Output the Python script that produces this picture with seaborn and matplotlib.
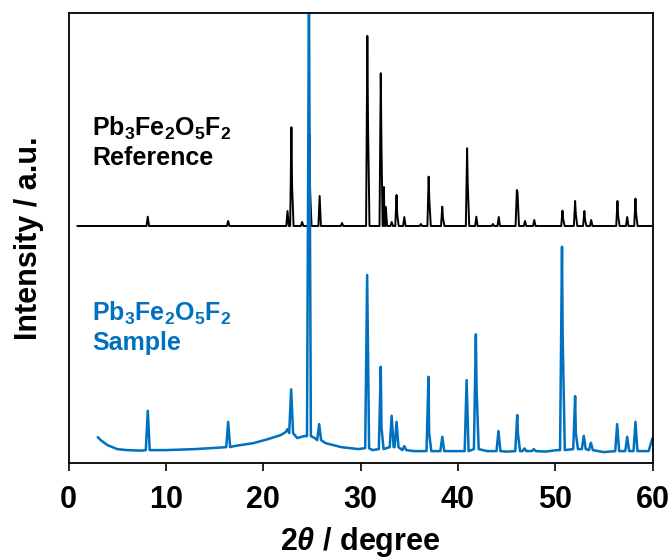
import numpy as np
import pandas as pd
import matplotlib
matplotlib.use("Agg")
import matplotlib.pyplot as plt
import seaborn as sns

# Reference pattern (black): peak positions (2theta), peak heights above its baseline, Ka2 shoulders
ref_start = 0.9
ref_end = 60.0
ref_base = 237.0
ref_pos = [8.14, 16.4, 22.5, 22.9, 24.0, 24.75, 25.8, 28.1, 30.7, 32.08, 32.4, 32.6,
           33.2, 33.7, 34.5, 36.2, 37.0, 38.4, 40.95, 41.9, 43.6, 44.2, 46.06, 46.9,
           47.85, 50.75, 52.05, 53.0, 53.7, 56.4, 57.4, 58.25]
ref_height = [9.3, 5, 15, 98.7, 4, 91.7, 30, 3, 190, 152.7, 39, 19,
              4, 31, 9, 2, 49.3, 19.3, 77.7, 9.3, 2, 9, 36, 5,
              6, 15.3, 25, 15, 6, 25, 9, 27.3]
ref_shoulder = [0, 0, 0, 40, 0, 35, 0, 0, 102, 81, 0, 0,
                0, 12, 0, 0, 26, 8, 41, 0, 0, 0, 34, 0,
                0, 7, 12, 6, 0, 10, 0, 12]

# Sample pattern (blue): background points and peaks (top and foot level)
bg_x = [3.0, 3.3, 4.0, 5.0, 6.0, 7.5, 10.0, 13.0, 15.5, 17.0, 19.0, 20.5, 21.8,
        22.3, 22.5, 23.5, 24.2, 25.3, 26.4, 28.0, 29.8, 31.2, 35.5, 40.0, 43.0,
        45.0, 49.0, 50.2, 55.0, 59.6, 60.0]
bg_y = [26, 23, 18, 14, 13, 12.5, 13, 14, 15.5, 17, 20, 24, 28,
        31, 34, 25, 27, 25, 20, 16, 14, 13, 12, 12, 12,
        11.5, 11.5, 13, 11, 12, 25]
smp_pos = [8.14, 16.4, 22.87, 24.7, 25.75, 30.68, 32.08, 33.2, 33.7, 34.5, 36.98,
           38.4, 40.9, 41.85, 44.17, 46.1, 46.84, 47.8, 50.7, 52.05, 52.94, 53.67,
           56.37, 57.4, 58.25]
smp_top = [52.3, 41.3, 73.7, 470, 39, 188, 96.3, 47.3, 41.3, 17, 86.3,
           26.3, 83, 128.7, 32, 48, 14.7, 14, 216.3, 67, 27.3, 20.3,
           39, 26.3, 41.3]
smp_foot = [13, 16, 30, 27, 23, 15, 14, 16, 16, 13, 12,
            12, 12, 14, 12, 12, 12, 12, 13, 14, 14, 13,
            12, 12, 12]
smp_shoulder = [0, 0, 0, 0, 0, 0, 36, 0, 0, 0, 30,
                0, 0, 75, 0, 30, 0, 0, 125, 30, 0, 0,
                0, 0, 0]

ref_color = "black"
smp_color = "#0070C0"


def trace(start, end, base_x, base_y, pos, top, foot, shoulder, hw):
    xs, ys = list(base_x), list(base_y)
    for p, t, f, s in zip(pos, top, foot, shoulder):
        if s > 0:
            xs += [p - hw, p, p + 0.07, p + 0.09 + hw]
            ys += [f, t, s, f]
        else:
            xs += [p - hw, p, p + hw]
            ys += [f, t, f]
    df = pd.DataFrame({"x": xs, "y": ys}).sort_values("x")
    return df[(df.x >= start) & (df.x <= end)]


ref_df = trace(ref_start, ref_end, [ref_start, ref_end], [ref_base, ref_base], ref_pos,
               [ref_base + h for h in ref_height], [ref_base] * len(ref_pos),
               [ref_base + s if s > 0 else 0 for s in ref_shoulder], 0.13)
smp_df = trace(3.0, 60.0, bg_x, bg_y, smp_pos, smp_top, smp_foot, smp_shoulder, 0.2)

sns.set_style("ticks")
plt.rcParams["font.family"] = ["Liberation Sans", "DejaVu Sans"]
plt.rcParams["font.weight"] = "bold"
plt.rcParams["text.color"] = "black"
plt.rcParams["axes.labelcolor"] = "black"
plt.rcParams["axes.edgecolor"] = "black"
plt.rcParams["xtick.color"] = "black"
plt.rcParams["mathtext.fontset"] = "custom"
plt.rcParams["mathtext.rm"] = "Liberation Sans:bold"
plt.rcParams["mathtext.bf"] = "Liberation Sans:bold"
plt.rcParams["mathtext.it"] = "Liberation Sans:bold:italic"

fig = plt.figure(figsize=(6.72, 5.6), dpi=100)
ax = fig.add_axes([0.102, 0.173, 0.869, 0.804])

sns.lineplot(data=ref_df, x="x", y="y", ax=ax, color=ref_color, lw=1.4,
             sort=False, estimator=None)
sns.lineplot(data=smp_df, x="x", y="y", ax=ax, color=smp_color, lw=1.8,
             sort=False, estimator=None)

formula = r"Pb$_3$Fe$_2$O$_5$F$_2$"
ax.text(2.4, 327, formula, color=ref_color, fontsize=18, fontweight="bold")
ax.text(2.4, 298, "Reference", color=ref_color, fontsize=18, fontweight="bold")
ax.text(2.4, 142, formula, color=smp_color, fontsize=18, fontweight="bold")
ax.text(2.4, 113, "Sample", color=smp_color, fontsize=18, fontweight="bold")

ax.set_xlim(0, 60)
ax.set_ylim(0, 450)
ax.set_xticks(np.arange(0, 61, 10))
ax.set_yticks([])
ax.tick_params(axis="x", direction="out", length=6, width=1.2, labelsize=22, pad=10,
               colors="black")
for lab in ax.get_xticklabels():
    lab.set_fontweight("bold")
for sp in ax.spines.values():
    sp.set_linewidth(1.3)
    sp.set_visible(True)
    sp.set_color("black")

ax.set_xlabel(r"2$\mathit{\theta}$ / degree", fontsize=22, fontweight="bold", labelpad=7)
ax.set_ylabel("Intensity / a.u.", fontsize=22, fontweight="bold", labelpad=18)

fig.savefig("out.png", dpi=100)
